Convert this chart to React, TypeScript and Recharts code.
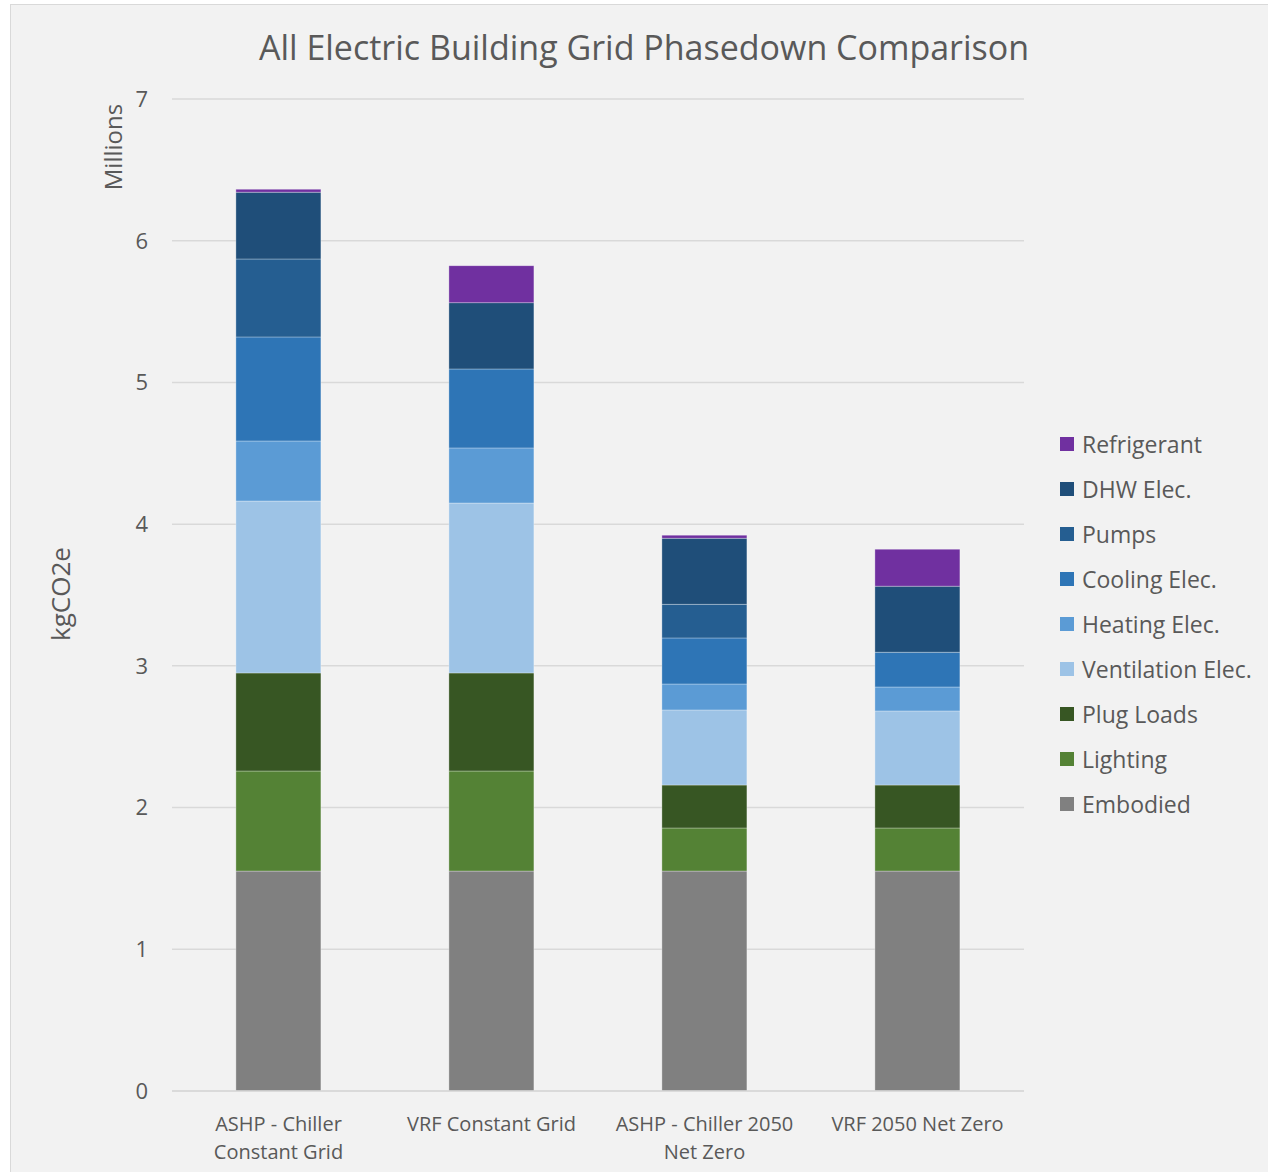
import { BarChart, Bar, XAxis, YAxis, CartesianGrid } from 'recharts'

// values in millions of kgCO2e, one entry per category
const CATEGORIES = [
  'ASHP - Chiller Constant Grid',
  'VRF Constant Grid',
  'ASHP - Chiller 2050 Net Zero',
  'VRF 2050 Net Zero',
]
const CATEGORY_LINES = [
  ['ASHP - Chiller', 'Constant Grid'],
  ['VRF Constant Grid'],
  ['ASHP - Chiller 2050', 'Net Zero'],
  ['VRF 2050 Net Zero'],
]
const EMBODIED = [1.552, 1.552, 1.552, 1.552]
const LIGHTING = [0.706, 0.706, 0.304, 0.304]
const PLUG_LOADS = [0.692, 0.692, 0.303, 0.303]
const VENTILATION = [1.213, 1.199, 0.53, 0.523]
const HEATING = [0.424, 0.389, 0.183, 0.169]
const COOLING = [0.734, 0.557, 0.325, 0.245]
const PUMPS = [0.55, 0, 0.237, 0]
const DHW = [0.471, 0.468, 0.466, 0.466]
const REFRIGERANT = [0.021, 0.261, 0.022, 0.261]
const Y_TICKS = [0, 1, 2, 3, 4, 5, 6, 7]

const SERIES = [
  { key: 'Embodied', values: EMBODIED, color: '#808080' },
  { key: 'Lighting', values: LIGHTING, color: '#548235' },
  { key: 'Plug Loads', values: PLUG_LOADS, color: '#375623' },
  { key: 'Ventilation Elec.', values: VENTILATION, color: '#9DC3E6' },
  { key: 'Heating Elec.', values: HEATING, color: '#5B9BD5' },
  { key: 'Cooling Elec.', values: COOLING, color: '#2E75B6' },
  { key: 'Pumps', values: PUMPS, color: '#255E91' },
  { key: 'DHW Elec.', values: DHW, color: '#1F4E79' },
  { key: 'Refrigerant', values: REFRIGERANT, color: '#7030A0' },
]

const data = CATEGORIES.map((name, i) => {
  const row: Record<string, string | number> = { name }
  SERIES.forEach((s) => {
    row[s.key] = s.values[i]
  })
  return row
})

const FONT = '"Open Sans", sans-serif'
const TEXT = '#595959'

function CategoryTick({ x, y, index }: any) {
  const lines = CATEGORY_LINES[index] || []
  return (
    <text x={x} y={y + 38} textAnchor="middle" fill={TEXT} fontSize={20} fontFamily={FONT}>
      {lines.map((line, i) => (
        <tspan key={line} x={x} dy={i === 0 ? 0 : 28}>
          {line}
        </tspan>
      ))}
    </text>
  )
}

function LegendList() {
  return (
    <div style={{ position: 'absolute', left: 1060, top: 421, fontFamily: FONT }}>
      {[...SERIES].reverse().map((s) => (
        <div key={s.key} style={{ display: 'flex', alignItems: 'center', height: 45 }}>
          <span style={{ width: 14, height: 14, background: s.color, marginRight: 8 }} />
          <span style={{ fontSize: 23, color: TEXT, whiteSpace: 'nowrap' }}>{s.key}</span>
        </div>
      ))}
    </div>
  )
}

export default function App() {
  return (
    <div style={{ position: 'absolute', left: 0, top: 0, width: 1268, height: 1172, background: '#fff', overflow: 'hidden' }}>
      <div
        style={{
          position: 'absolute',
          left: 10,
          top: 4,
          width: 1300,
          height: 1200,
          background: '#F2F2F2',
          border: '1.5px solid #D9D9D9',
        }}
      />
      <div
        style={{
          position: 'absolute',
          left: 0,
          top: 22,
          width: 1268,
          textAlign: 'center',
          paddingLeft: 20,
          boxSizing: 'border-box',
          fontFamily: FONT,
          fontSize: 34,
          lineHeight: '50px',
          color: TEXT,
          whiteSpace: 'nowrap',
        }}
      >
        All Electric Building Grid Phasedown Comparison
      </div>
      <div
        style={{
          position: 'absolute',
          left: 112,
          top: 147,
          transform: 'translate(-50%, -50%) rotate(-90deg)',
          fontFamily: FONT,
          fontSize: 24,
          color: TEXT,
          whiteSpace: 'nowrap',
        }}
      >
        Millions
      </div>
      <div
        style={{
          position: 'absolute',
          left: 60,
          top: 594,
          transform: 'translate(-50%, -50%) rotate(-90deg)',
          fontFamily: FONT,
          fontSize: 26,
          color: TEXT,
          whiteSpace: 'nowrap',
        }}
      >
        kgCO2e
      </div>
      <div style={{ position: 'absolute', left: 0, top: 0 }}>
        <BarChart
          width={1268}
          height={1172}
          data={data}
          margin={{ top: 99, right: 244, bottom: 21, left: 112 }}
          barCategoryGap="30%"
        >
          <CartesianGrid vertical={false} stroke="#D9D9D9" strokeWidth={1.5} />
          <XAxis
            dataKey="name"
            height={60}
            tickLine={false}
            tickSize={0}
            axisLine={{ stroke: '#D9D9D9', strokeWidth: 1.5 }}
            tick={<CategoryTick />}
            interval={0}
          />
          <YAxis
            width={60}
            domain={[0, 7]}
            ticks={Y_TICKS}
            axisLine={false}
            tickLine={false}
            tickSize={0}
            tickMargin={24}
            tick={{ fill: TEXT, fontSize: 22, fontFamily: FONT }}
          />
          {SERIES.map((s) => (
            <Bar
              key={s.key}
              dataKey={s.key}
              stackId="a"
              fill={s.color}
              stroke="#ffffff"
              strokeOpacity={0.3}
              strokeWidth={1}
              isAnimationActive={false}
            />
          ))}
        </BarChart>
      </div>
      <LegendList />
    </div>
  )
}
